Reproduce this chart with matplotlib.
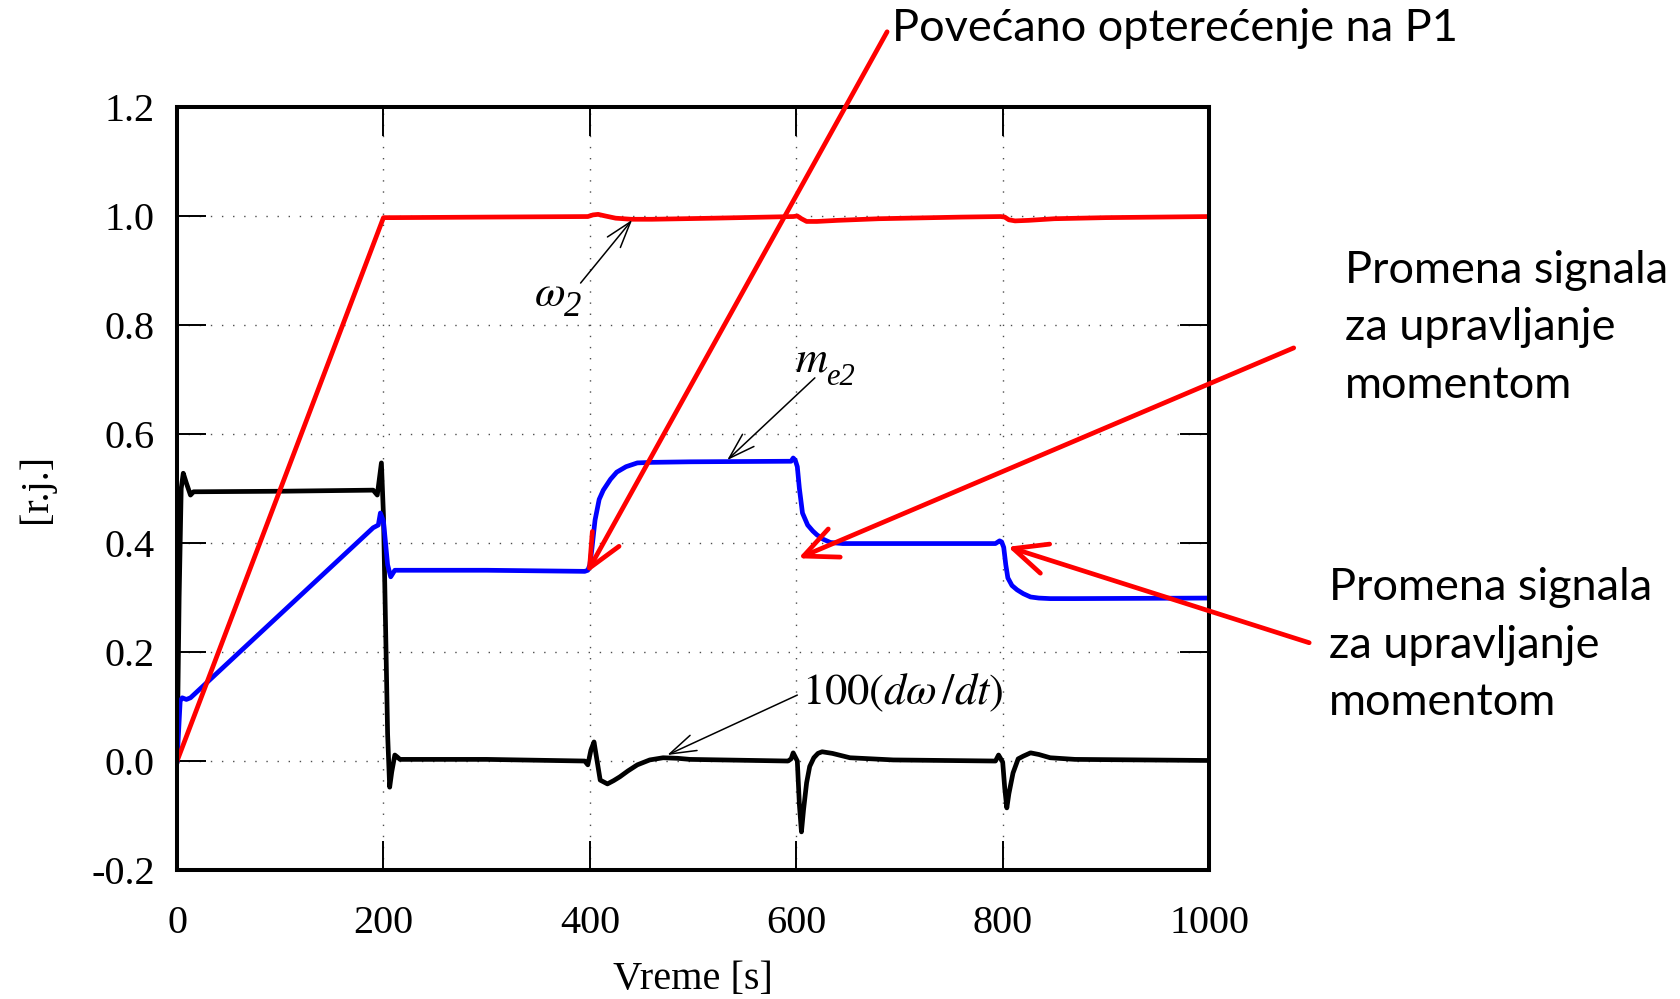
import matplotlib
matplotlib.use('Agg')
import matplotlib.pyplot as plt

# omega_2 (red)
t_w2 = [0, 200, 210, 300, 398, 403, 408, 415, 425, 440,
        460, 520, 597, 601, 605, 610, 620, 640, 680, 760,
        798, 802, 806, 812, 825, 850, 900, 1000]
w2 = [0, 0.997, 0.997, 0.998, 0.999, 1.002, 1.003, 1.0, 0.996, 0.994,
      0.994, 0.996, 0.999, 1.0, 0.995, 0.990, 0.990, 0.992, 0.995, 0.998,
      0.999, 0.998, 0.993, 0.991, 0.992, 0.995, 0.997, 0.999]

# m_e2 (blue)
t_me2 = [0, 3, 5, 9, 13, 190, 195, 197, 200, 204,
         207, 211, 300, 395, 398, 400, 402, 405, 409, 413,
         420, 426, 435, 446, 460, 497, 592, 595, 597, 599,
         601, 603, 606, 611, 616, 620, 626, 633, 645, 700,
         793, 797, 799, 801, 803, 805, 809, 814, 820, 827,
         835, 846, 870, 1000]
me2 = [0, 0.110, 0.116, 0.113, 0.116, 0.428, 0.433, 0.455, 0.44, 0.36,
       0.338, 0.35, 0.35, 0.348, 0.35, 0.36, 0.39, 0.442, 0.48, 0.497,
       0.517, 0.530, 0.540, 0.547, 0.548, 0.549, 0.550, 0.550, 0.556, 0.552,
       0.54, 0.50, 0.455, 0.433, 0.422, 0.415, 0.407, 0.401, 0.399, 0.399,
       0.399, 0.404, 0.402, 0.392, 0.36, 0.336, 0.322, 0.314, 0.307, 0.301,
       0.299, 0.298, 0.298, 0.299]

# 100 * d(omega)/dt (black)
t_dw = [0, 2, 4, 6, 9, 13, 16, 100, 190, 194,
        198, 200, 202, 204, 206, 208, 211, 213, 216, 300,
        395, 398, 401, 404, 407, 410, 417, 423, 429, 437,
        446, 458, 471, 485, 497, 592, 595, 597, 601, 603,
        605, 607, 610, 613, 617, 621, 625, 635, 652, 694,
        793, 796, 800, 802, 804, 806, 810, 815, 820, 827,
        835, 846, 870, 1000]
dw = [0, 0.3, 0.5, 0.528, 0.51, 0.488, 0.494, 0.495, 0.497, 0.488,
      0.547, 0.45, 0.25, 0.05, -0.048, -0.02, 0.011, 0.008, 0.003, 0.003,
      0.0, -0.007, 0.02, 0.035, 0.0, -0.035, -0.042, -0.036, -0.029, -0.018,
      -0.007, 0.002, 0.006, 0.005, 0.003, 0.0, 0.004, 0.015, 0.0, -0.08,
      -0.13, -0.09, -0.04, -0.01, 0.006, 0.014, 0.017, 0.014, 0.006, 0.002,
      0.0, 0.011, -0.002, -0.05, -0.086, -0.06, -0.022, 0.004, 0.009, 0.015,
      0.012, 0.006, 0.003, 0.001]

x_ticks = [0, 200, 400, 600, 800, 1000]
y_ticks = [-0.2, 0.0, 0.2, 0.4, 0.6, 0.8, 1.0, 1.2]
y_ticklabels = ['-0.2', '0.0', '0.2', '0.4', '0.6', '0.8', '1.0', '1.2']

note_top = 'Povećano opterećenje na P1'
note_ctrl = 'Promena signala\nza upravljanje\nmomentom'

plt.rcParams['font.family'] = 'Liberation Serif'
plt.rcParams['mathtext.fontset'] = 'stix'

fig = plt.figure(figsize=(16.8, 9.99), dpi=100)
ax = fig.add_axes([0.1054, 0.1291, 0.6143, 0.7638])

ax.plot(t_dw, dw, color='black', lw=3.4)
ax.plot(t_me2, me2, color='#0000ff', lw=3.4)
ax.plot(t_w2, w2, color='#ff0000', lw=3.4)

ax.set_xlim(0, 1000)
ax.set_ylim(-0.2, 1.2)
ax.set_xticks(x_ticks)
ax.set_yticks(y_ticks)
ax.set_yticklabels(y_ticklabels)
ax.tick_params(direction='in', length=21, width=1.4, labelsize=29,
               top=True, right=True)
ax.tick_params(axis='x', pad=25)
ax.tick_params(axis='y', pad=16)
ax.grid(True, color='0.3', lw=1.0, linestyle=(0, (1, 7)))
for s in ax.spines.values():
    s.set_linewidth(2.9)

ax.set_xlabel('Vreme [s]', fontsize=29, labelpad=14)
ax.set_ylabel('[r.j.]', fontsize=29, labelpad=26)

# thin black arrows with labels (italic, big subscripts)
black_arrow = dict(arrowstyle='->,head_length=1.9,head_width=0.6', color='black',
                   lw=1.1, mutation_scale=10, shrinkA=0, shrinkB=0)
ax.annotate('', xy=(441, 0.993), xytext=(391, 0.877), arrowprops=black_arrow)
ax.text(361, 0.855, r'$\omega$', fontsize=32, ha='center', va='center')
ax.text(375, 0.833, '2', fontsize=25, style='italic', ha='left', va='center')
ax.annotate('', xy=(533, 0.552), xytext=(618, 0.703), arrowprops=black_arrow)
ax.text(599, 0.734, r'$m$', fontsize=32, ha='left', va='center')
ax.text(629, 0.703, 'e2', fontsize=22, style='italic', ha='left', va='center')
ax.annotate('', xy=(475, 0.011), xytext=(601, 0.121), arrowprops=black_arrow)
ax.text(606, 0.125, r'$100(d\omega\,/dt)$', fontsize=32, ha='left', va='center')

# red notes
red_arrow = dict(arrowstyle='->,head_length=2.4,head_width=1.1', color='#ff0000',
                 lw=3.4, mutation_scale=10, shrinkA=0, shrinkB=0)
ax.annotate('', xy=(397, 0.345), xytext=(688, 1.338), arrowprops=red_arrow,
            annotation_clip=False)
ax.annotate('', xy=(602, 0.372), xytext=(1082, 0.758), arrowprops=red_arrow,
            annotation_clip=False)
ax.annotate('', xy=(805, 0.393), xytext=(1097, 0.217), arrowprops=red_arrow,
            annotation_clip=False)

fig.text(0.531, 0.971, note_top, fontsize=32.5, family='Lato', ha='left', va='center')
fig.text(0.8006, 0.672, note_ctrl, fontsize=32.5, family='Lato', ha='left',
         va='center', linespacing=1.5)
fig.text(0.7911, 0.354, note_ctrl, fontsize=32.5, family='Lato', ha='left',
         va='center', linespacing=1.5)

fig.savefig('out.png', dpi=100)
